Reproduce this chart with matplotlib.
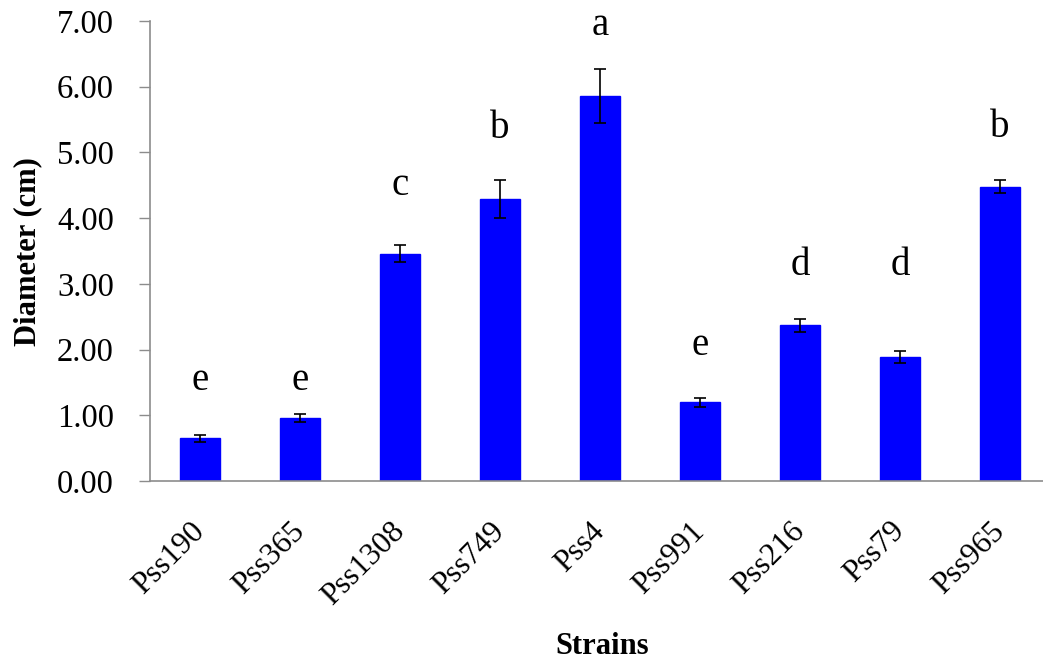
import numpy as np
import matplotlib
matplotlib.use("Agg")
import matplotlib.pyplot as plt

plt.rcParams['font.family'] = ['Liberation Serif', 'DejaVu Serif']

# data
strains = ["Pss190", "Pss365", "Pss1308", "Pss749", "Pss4",
           "Pss991", "Pss216", "Pss79", "Pss965"]
diameter = [0.65, 0.96, 3.46, 4.29, 5.86, 1.20, 2.37, 1.89, 4.48]
errors = [0.05, 0.065, 0.13, 0.29, 0.41, 0.07, 0.10, 0.09, 0.10]
groups = ["e", "e", "c", "b", "a", "e", "d", "d", "b"]
group_y = [1.39, 1.39, 4.35, 5.22, 6.79, 1.92, 3.14, 3.14, 5.24]

W, H = 1043, 664
fig = plt.figure(figsize=(W / 100, H / 100), dpi=100)
# axes spans pixel x 150..1050 and y 21..481
ax = fig.add_axes([150 / W, (H - 481) / H, 900 / W, 460 / H])

x = np.arange(len(strains))
ax.bar(x, diameter, width=0.4, color="#0000ff", edgecolor="#0000ff", zorder=2)
ax.errorbar(x, diameter, yerr=errors, fmt="none", ecolor="black",
            elinewidth=1.2, capsize=4, capthick=1.2, zorder=3)

for xi, g, gy in zip(x, groups, group_y):
    ax.text(xi, gy, g, ha="center", va="baseline", fontsize=28)

ax.set_xlim(-0.5, len(strains) - 0.5)
ax.set_ylim(0, 7)
ax.set_yticks(np.arange(0, 8, 1))
ax.set_yticklabels(["%.2f" % v for v in np.arange(0, 8, 1)], fontsize=23.5)
ax.set_xticks(x)
ax.set_xticklabels(strains, fontsize=22.5, rotation=45, ha="right",
                   va="center", rotation_mode="anchor")

for side in ["top", "right"]:
    ax.spines[side].set_visible(False)
for side in ["left", "bottom"]:
    ax.spines[side].set_color("#8c8c8c")
    ax.spines[side].set_linewidth(1.2)

ax.tick_params(axis="y", direction="out", length=8, width=1.0,
               color="#8c8c8c", pad=18)
ax.tick_params(axis="x", length=0, pad=33)

fig.text(27.5 / W, 1 - 252 / H, "Diameter (cm)", rotation=90, ha="center",
         va="center", fontsize=22, fontweight="bold")
fig.text(602 / W, 1 - 647 / H, "Strains", ha="center", va="center",
         fontsize=22, fontweight="bold")

fig.savefig("out.png", dpi=100)
